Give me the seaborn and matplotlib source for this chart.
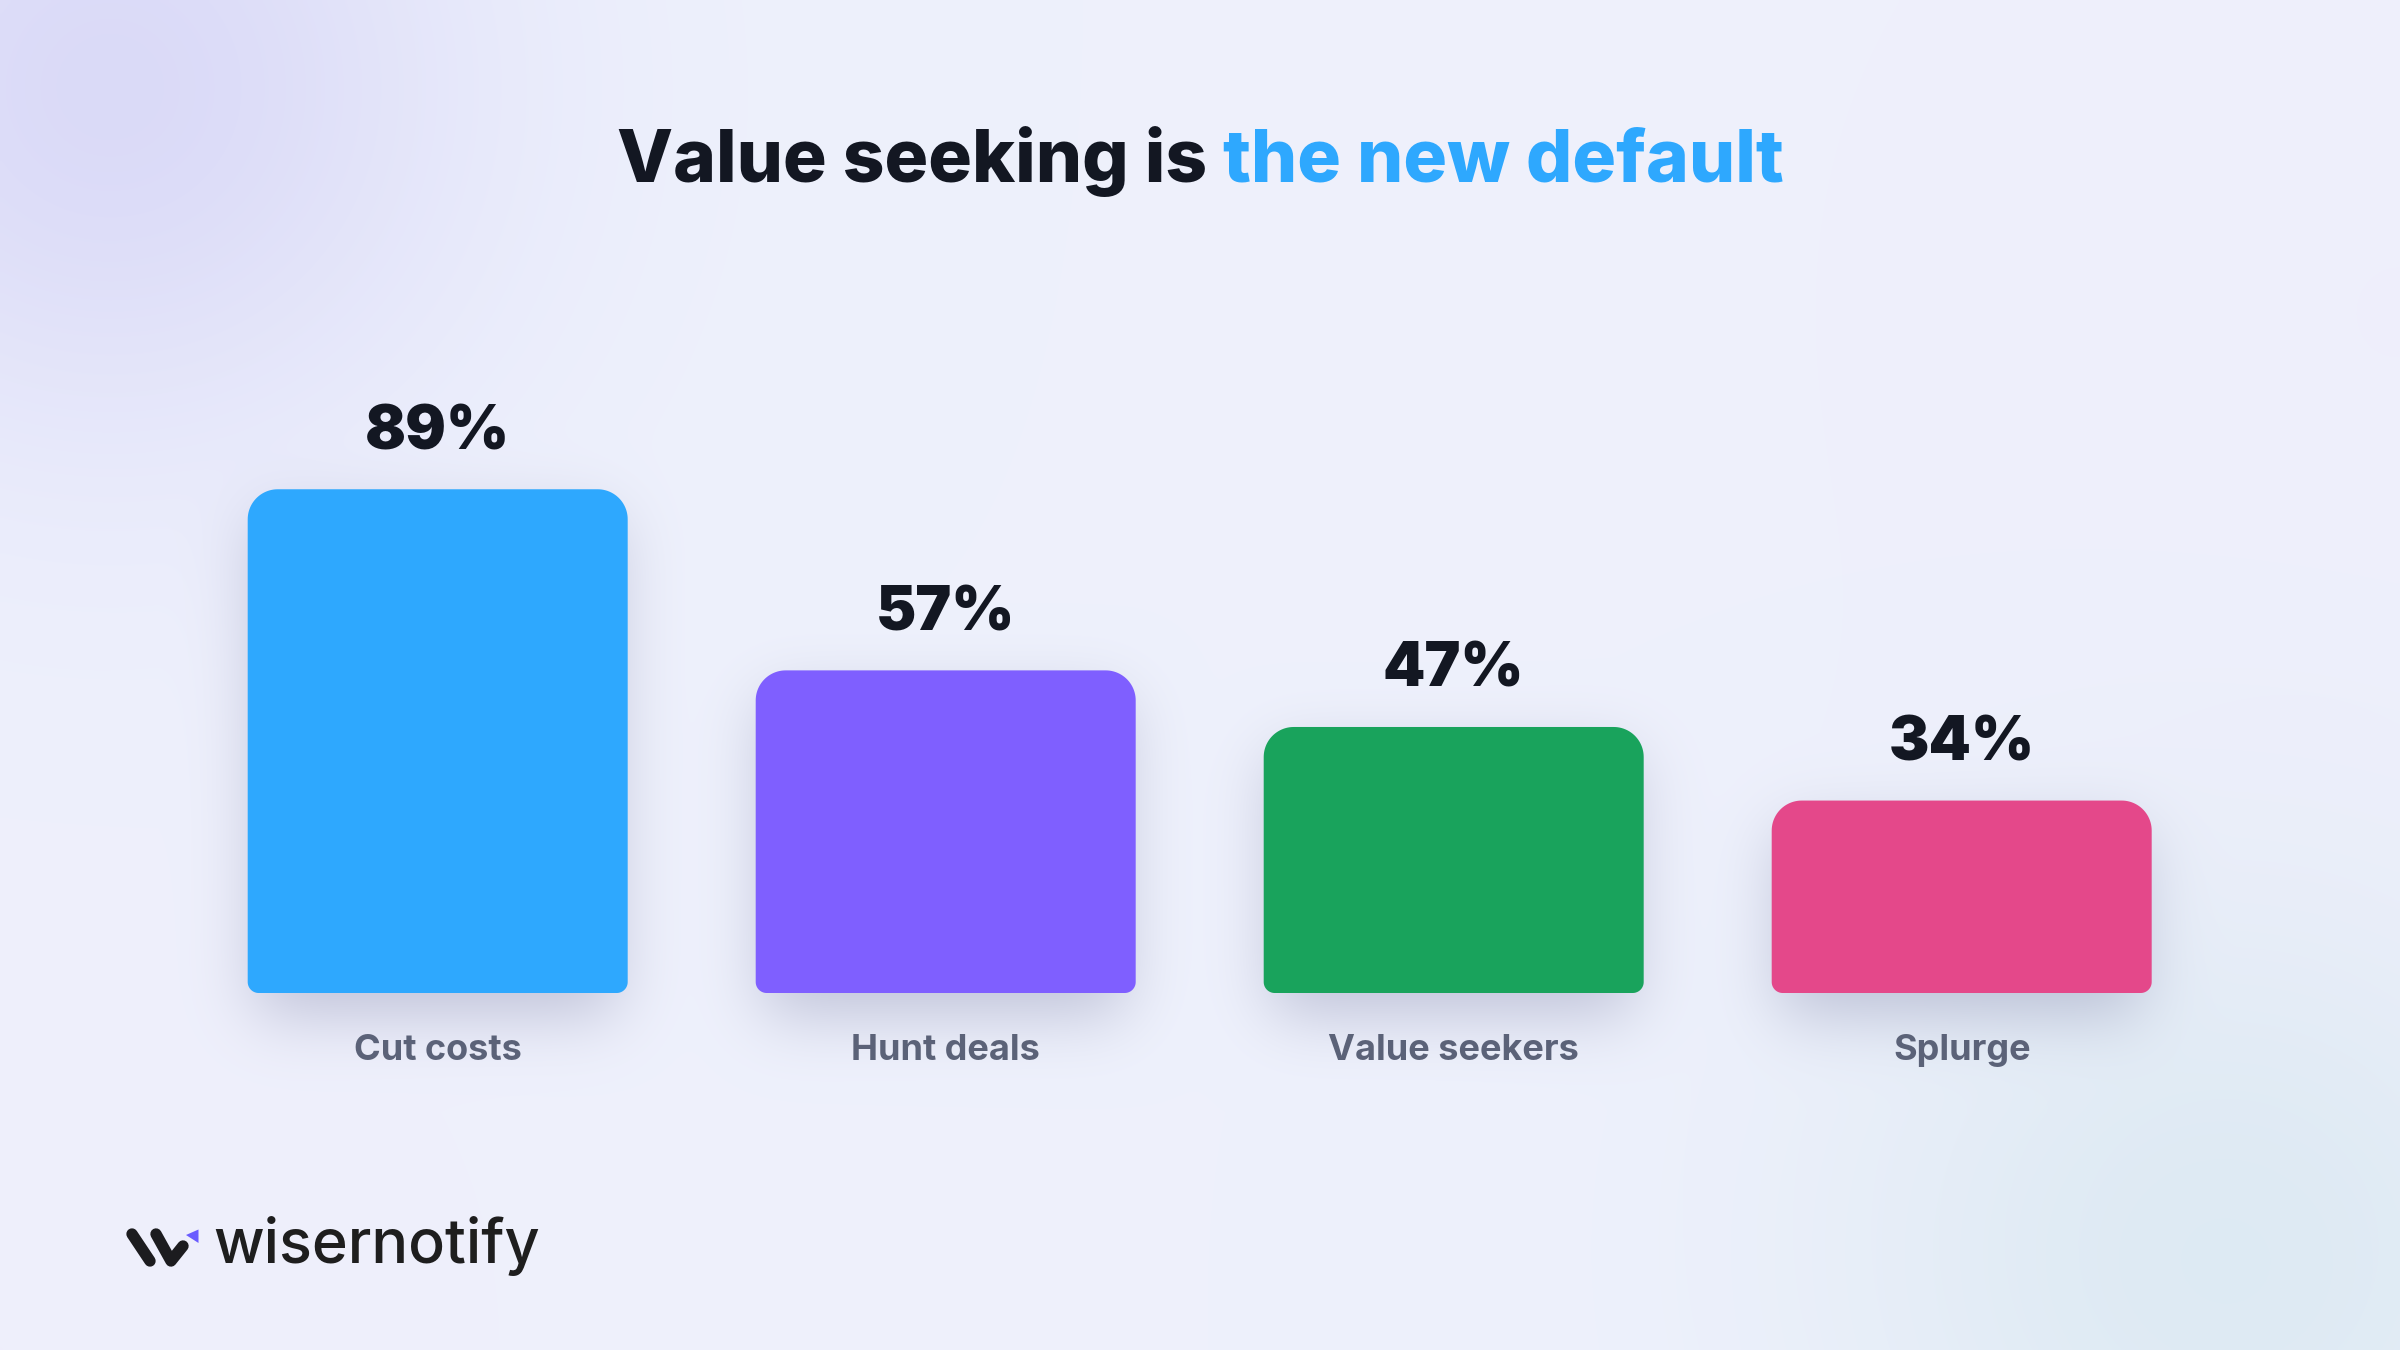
import numpy as np
import pandas as pd
import matplotlib
matplotlib.use("Agg")
import matplotlib.pyplot as plt
import seaborn as sns
from matplotlib.patches import Polygon
from matplotlib.colors import to_rgb

# data
categories = ["Cut costs", "Hunt deals", "Value seekers", "Splurge"]
shares = [89, 57, 47, 34]
value_labels = ["89%", "57%", "47%", "34%"]
bar_colors = ["#2ea8fe", "#7f5fff", "#19a35c", "#e4488a"]

title_dark = "Value seeking is"
title_blue = "the new default"
brand = "wisernotify"

W, H, DPI = 2400, 1350, 100

sns.set_theme(style="white")
plt.rcParams['font.family'] = ['Inter', 'DejaVu Sans']

fig = plt.figure(figsize=(W / DPI, H / DPI), dpi=DPI)

# background axes in pixel coords (y down)
bg_ax = fig.add_axes([0, 0, 1, 1], zorder=0)
bg_ax.set_xlim(0, W)
bg_ax.set_ylim(H, 0)
bg_ax.axis('off')

# main chart axes
ax = fig.add_axes([183.7 / W, (H - 993) / H, 2032 / W, 566 / H], zorder=1)
ax.patch.set_alpha(0)
df = pd.DataFrame({"cat": categories, "share": shares})
sns.barplot(data=df, x="cat", y="share", hue="cat", palette=bar_colors,
            width=0.748, saturation=1, legend=False, ax=ax)
ax.set_xlim(-0.5, 3.5)
ax.set_ylim(0, 100)
ax.axis('off')

# pixel scale of data units
o = ax.transData.transform((0, 0))
sx = ax.transData.transform((1, 0))[0] - o[0]
sy = ax.transData.transform((0, 1))[1] - o[1]

# ---- background: soft gradient + blurred bar shadows ----
step = 4
yy, xx = np.mgrid[0:H:step, 0:W:step] + step / 2
img = np.ones(xx.shape + (3,)) * np.array(to_rgb("#eef1fc"))


def blend(img, alpha, color):
    c = np.array(to_rgb(color))
    return img * (1 - alpha[..., None]) + c * alpha[..., None]


def blob(cx, cy, r):
    return np.exp(-((xx - cx) ** 2 + (yy - cy) ** 2) / r ** 2)


img = blend(img, 0.85 * blob(110, 90, 360), "#d7d6f7")
img = blend(img, 0.8 * blob(2230, 1240, 380), "#d8e8f0")
img = blend(img, 0.5 * blob(2400, 300, 700), "#efedfb")
img = blend(img, 0.5 * blob(0, 1350, 600), "#efedfb")


def blur(a, sigma):
    r = int(3 * sigma)
    k = np.exp(-0.5 * (np.arange(-r, r + 1) / sigma) ** 2)
    k /= k.sum()
    a = np.apply_along_axis(lambda m: np.convolve(m, k, mode='same'), 0, a)
    a = np.apply_along_axis(lambda m: np.convolve(m, k, mode='same'), 1, a)
    return a


mask = np.zeros(xx.shape)
boxes = []
for p in ax.patches:
    x0, y0 = p.get_x(), p.get_y()
    x1, y1 = x0 + p.get_width(), y0 + p.get_height()
    boxes.append((p, x0, x1, y0, y1))
    (px0, py0), (px1, py1) = ax.transData.transform([(x0, y0), (x1, y1)])
    top, bottom = H - py1, H - py0
    mask[(xx >= px0 + 10) & (xx <= px1 - 10) & (yy >= top + 30) & (yy <= bottom + 24)] = 1
shadow = blur(mask, 32 / step)
img = blend(img, 0.31 * shadow, "#5a5e8a")

bg_ax.imshow(img, extent=(0, W, H, 0), interpolation='bilinear', aspect='auto', zorder=0)


# ---- rounded bars ----
def rounded_bar(x0, x1, y0, y1, rt, rb, n=24):
    corners = [
        (x0 + rb / sx, y0 + rb / sy, rb, np.pi, 1.5 * np.pi),
        (x1 - rb / sx, y0 + rb / sy, rb, 1.5 * np.pi, 2 * np.pi),
        (x1 - rt / sx, y1 - rt / sy, rt, 0, 0.5 * np.pi),
        (x0 + rt / sx, y1 - rt / sy, rt, 0.5 * np.pi, np.pi),
    ]
    pts = []
    for cx, cy, r, a0, a1 in corners:
        t = np.linspace(a0, a1, n)
        pts += list(zip(cx + r / sx * np.cos(t), cy + r / sy * np.sin(t)))
    return pts


for (p, x0, x1, y0, y1), lab, cat in zip(boxes, value_labels, categories):
    p.set_visible(False)
    ax.add_patch(Polygon(rounded_bar(x0, x1, y0, y1, 30, 11), closed=True,
                         facecolor=p.get_facecolor(), edgecolor='none', zorder=3))
    xc = (x0 + x1) / 2
    ax.text(xc, y1 + 40 / sy, lab, ha='center', va='baseline', fontsize=43.5,
            fontweight='black', color='#131722', clip_on=False)
    ax.text(xc, -67 / sy, cat, ha='center', va='baseline', fontsize=26,
            fontweight='bold', color='#5b6278', clip_on=False)

# ---- title in two colours ----
ty = (H - 182) / H
t1 = fig.text(0, ty, title_dark, fontsize=52.5, fontweight='heavy', color='#131722', va='baseline')
t2 = fig.text(0, ty, title_blue, fontsize=52.5, fontweight='heavy', color='#2ea8fe', va='baseline')
rend = fig.canvas.get_renderer()
w1 = t1.get_window_extent(rend).width
w2 = t2.get_window_extent(rend).width
gap = 16
start = (W - (w1 + gap + w2)) / 2
t1.set_x(start / W)
t2.set_x((start + w1 + gap) / W)

# ---- logo ----
ink = '#1c1c1f'
bg_ax.plot([132, 150], [1234, 1261], lw=8.2, color=ink, solid_capstyle='round', zorder=5)
bg_ax.plot([156, 171, 183], [1234, 1261, 1246], lw=8.2, color=ink,
           solid_capstyle='round', solid_joinstyle='round', zorder=5)
bg_ax.add_patch(Polygon([(186, 1235), (198.5, 1229.5), (198.5, 1243)], closed=True,
                        facecolor='#6a5cff', edgecolor='none', zorder=5))
fig.text(213 / W, (H - 1263) / H, brand, fontsize=44, fontweight='medium',
         color='#1e1e1e', va='baseline')

fig.savefig('out.png', dpi=DPI)
